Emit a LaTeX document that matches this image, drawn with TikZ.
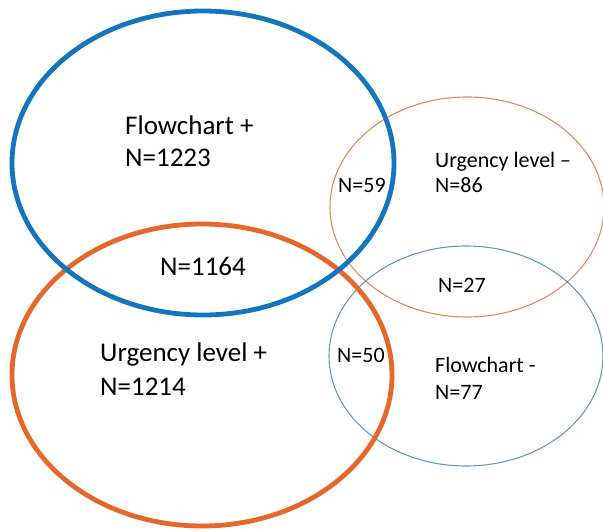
\documentclass[tikz,border=0pt]{standalone}
\usepackage{fontspec}
\setmainfont{Carlito}
\definecolor{bigblue}{HTML}{1275BE}
\definecolor{bigorange}{HTML}{E6672A}
\definecolor{thinorange}{HTML}{E8885A}
\definecolor{thinblue}{HTML}{5C9BD0}
\tikzset{
  bigring/.style={line width=4.8pt},
  thinring/.style={line width=1.1pt},
  biglabel/.style={anchor=base west, inner sep=0pt, font=\fontsize{27}{32}\selectfont, align=left},
  smalllabel/.style={anchor=base west, inner sep=0pt, font=\fontsize{22}{25}\selectfont, align=left}
}
\begin{document}
\begin{tikzpicture}[x=1pt,y=-1pt]
\useasboundingbox (0,0) rectangle (603,532);
% thin ellipses
\draw[thinring, thinorange] (467,207) ellipse [x radius=137, y radius=110];
\draw[thinring, thinblue] (466,356) ellipse [x radius=137, y radius=110];
% big ellipses
\draw[bigring, bigorange] (202,375) ellipse [x radius=190, y radius=151];
\draw[bigring, bigblue] (203,163) ellipse [x radius=191, y radius=152];
% labels
\node[biglabel] (fcp) at (125,135) {Flowchart +};
\node[biglabel] (fcpn) at (125,167) {N=1223};
\node[biglabel] (both) at (160,276) {N=1164};
\node[biglabel] (ulp) at (100,361) {Urgency level +};
\node[biglabel] (ulpn) at (100,395) {N=1214};
\node[smalllabel] (n59) at (338,193) {N=59};
\node[smalllabel] (ulm) at (435,168) {Urgency level –};
\node[smalllabel] (ulmn) at (435,193) {N=86};
\node[smalllabel] (n27) at (438,292) {N=27};
\node[smalllabel] (n50) at (337,362) {N=50};
\node[smalllabel] (fcm) at (435,372) {Flowchart -};
\node[smalllabel] (fcmn) at (435,399) {N=77};
\end{tikzpicture}
\end{document}
